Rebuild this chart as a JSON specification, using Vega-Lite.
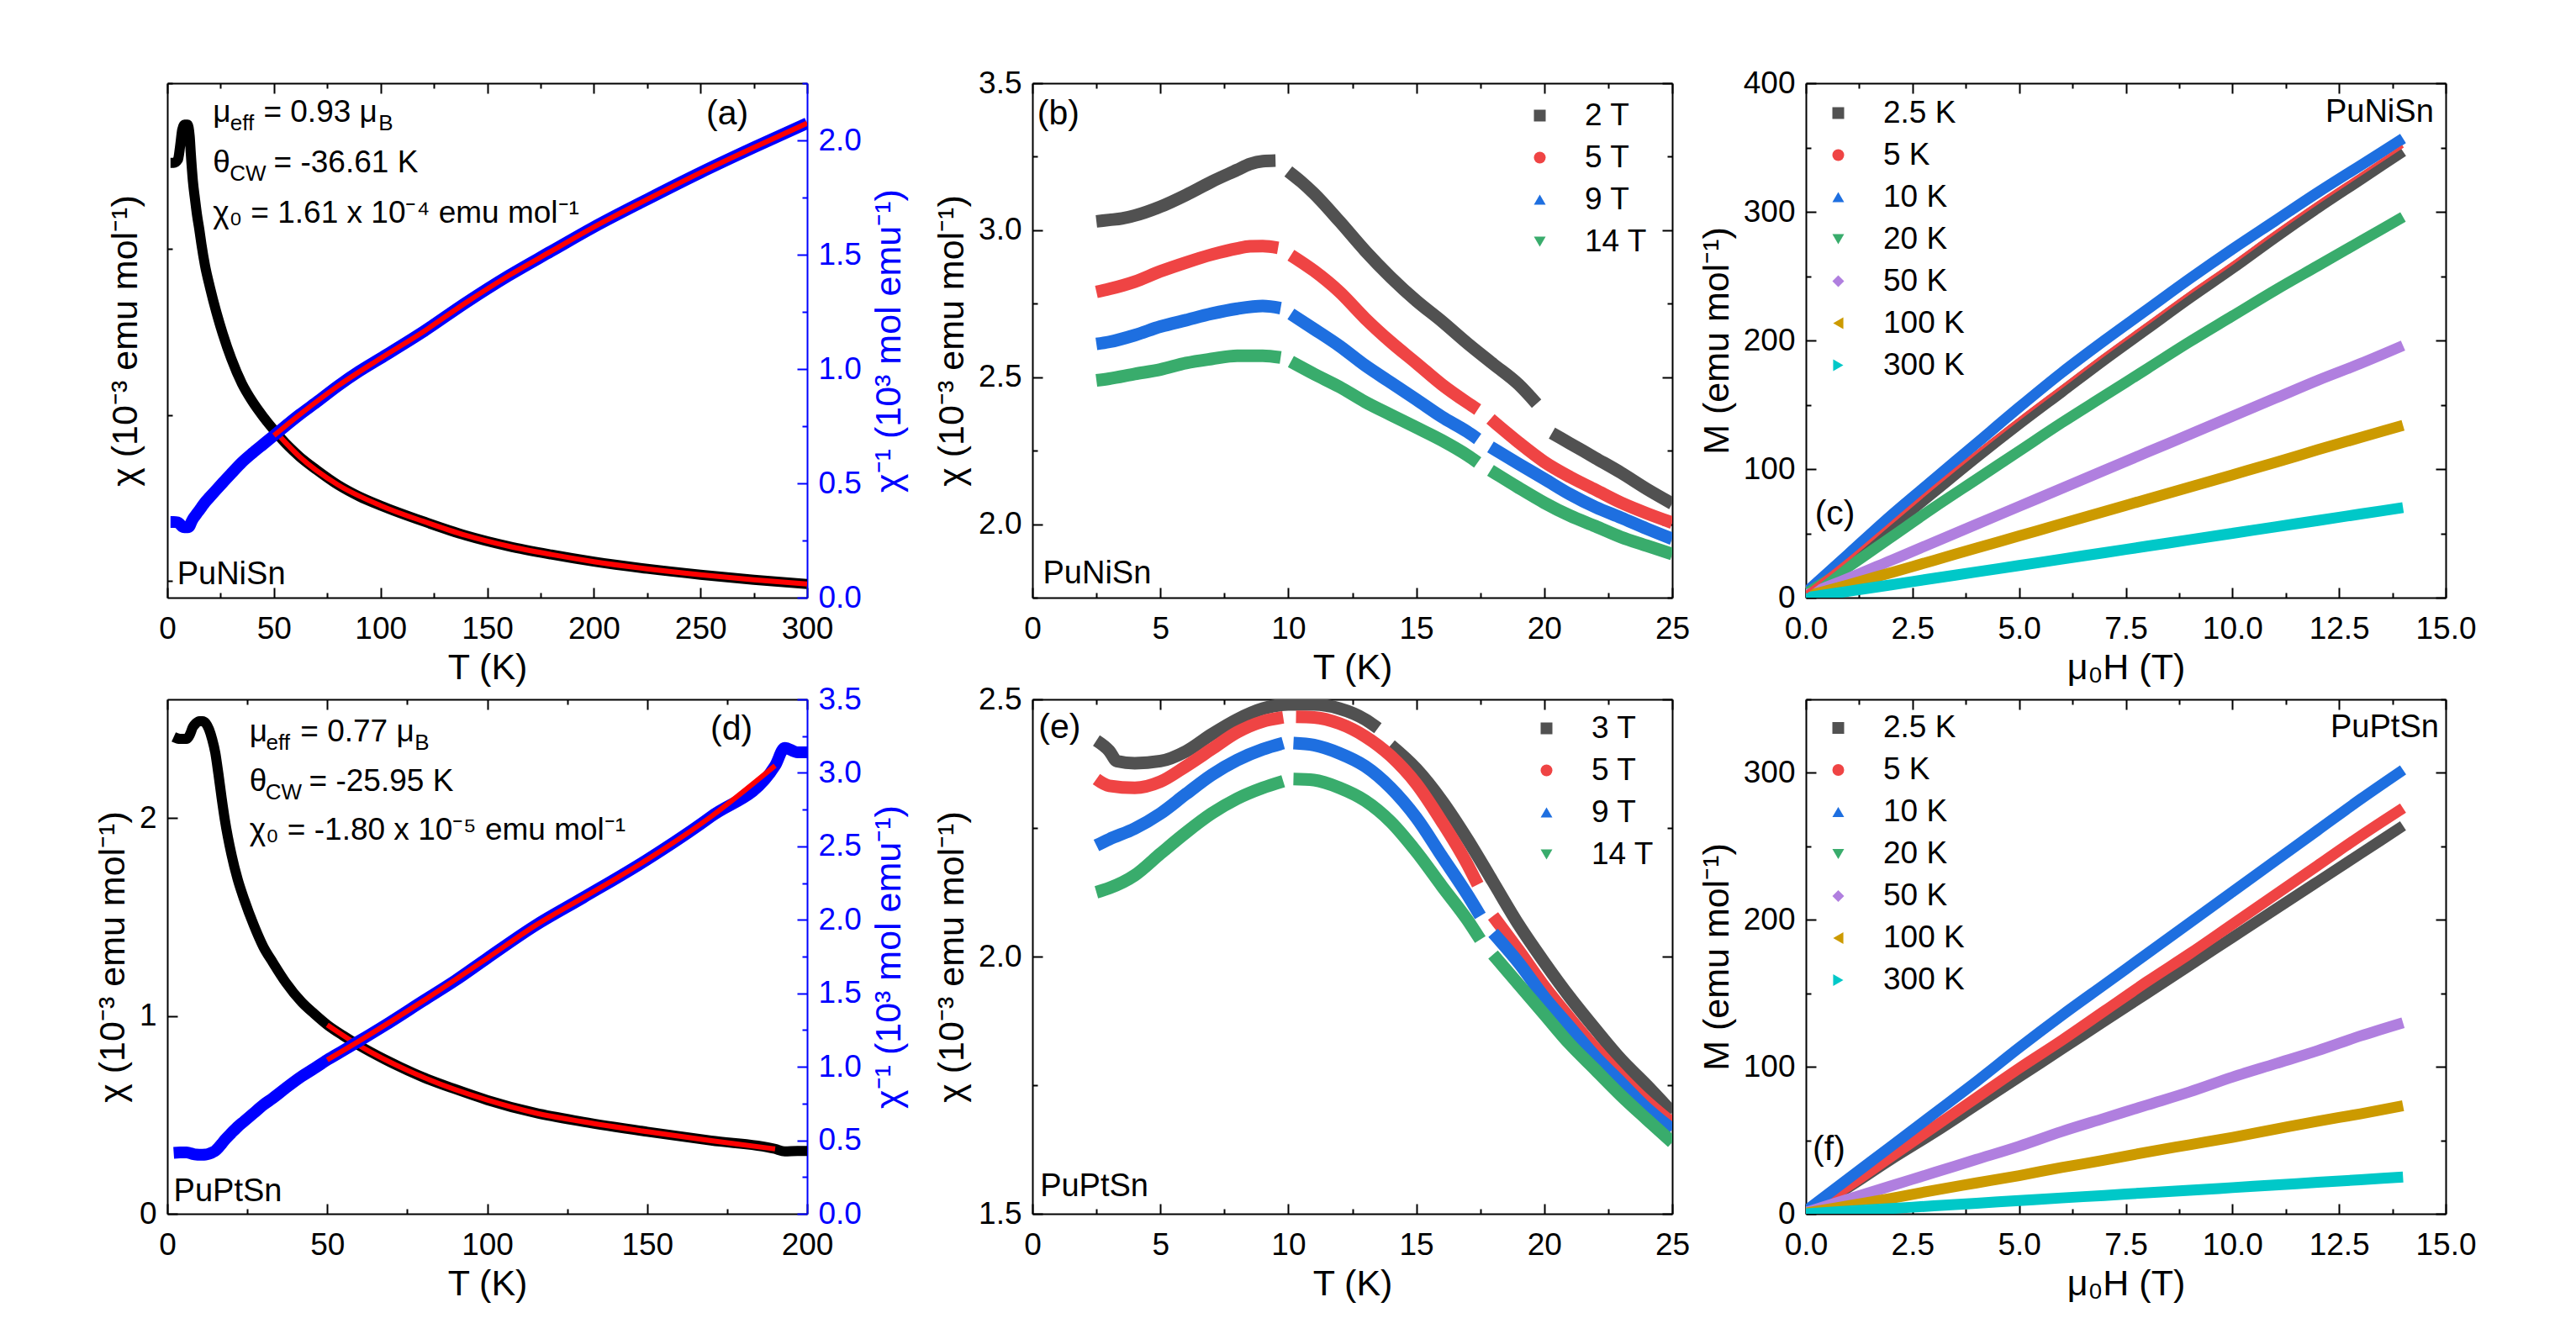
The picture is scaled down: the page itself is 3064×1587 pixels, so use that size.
{
"$schema":"https://vega.github.io/schema/vega-lite/v6.json",
"background":"white",
"padding":{"left":113,"top":80,"right":5,"bottom":5},
"config":{
 "font":"Liberation Sans",
 "view":{"stroke":null},
 "axis":{"grid":false,"labelFont":"Liberation Sans","labelFontSize":37,"labelColor":"#000000","titleFont":"Liberation Sans","titleFontSize":43,"titleFontWeight":"normal","titleColor":"#000000","domainColor":"#000000","domainWidth":2,"tickColor":"#000000","tickWidth":2,"labelPadding":25,"titlePadding":9,"labelFlush":false,"labelOverlap":false,"labelBound":false},
 "legend":{"labelFont":"Liberation Sans","labelFontSize":37,"labelColor":"#000000","symbolSize":196,"symbolStrokeWidth":0,"rowPadding":12,"labelOffset":35}
},
"resolve":{"scale":{"color":"independent","shape":"independent"},"legend":{"color":"independent","shape":"independent"}},
"datasets":{
 "a_meas":[
  {"T":1.5,"chi":3.02,"inv":0.331},{"T":3,"chi":3.02,"inv":0.331},{"T":5,"chi":3.04,"inv":0.329},{"T":6,"chi":3.12,"inv":0.321},{"T":7,"chi":3.22,"inv":0.311},{"T":8,"chi":3.25,"inv":0.308},{"T":9.5,"chi":3.25,"inv":0.308},{"T":10.5,"chi":3.18,"inv":0.314},{"T":11,"chi":3.08,"inv":0.325},{"T":12,"chi":2.91,"inv":0.344},{"T":13,"chi":2.80,"inv":0.357},{"T":14,"chi":2.70,"inv":0.370},{"T":15,"chi":2.62,"inv":0.382},{"T":16,"chi":2.53,"inv":0.395},{"T":17.7,"chi":2.40,"inv":0.417},{"T":20,"chi":2.27,"inv":0.441},{"T":23,"chi":2.12,"inv":0.472},{"T":26,"chi":1.99,"inv":0.503},{"T":30,"chi":1.84,"inv":0.543},{"T":35,"chi":1.69,"inv":0.592},{"T":40,"chi":1.58,"inv":0.633},{"T":45,"chi":1.49,"inv":0.671},{"T":50,"chi":1.41,"inv":0.709},{"T":57,"chi":1.31,"inv":0.763},{"T":62,"chi":1.25,"inv":0.800},{"T":70,"chi":1.17,"inv":0.855},{"T":80,"chi":1.08,"inv":0.926},{"T":90,"chi":1.01,"inv":0.990},{"T":100,"chi":0.955,"inv":1.047},{"T":120,"chi":0.86,"inv":1.163},{"T":140,"chi":0.775,"inv":1.290},{"T":160,"chi":0.71,"inv":1.408},{"T":180,"chi":0.66,"inv":1.515},{"T":200,"chi":0.617,"inv":1.621},{"T":225,"chi":0.574,"inv":1.742},{"T":250,"chi":0.538,"inv":1.859},{"T":275,"chi":0.508,"inv":1.969},{"T":300,"chi":0.482,"inv":2.075}
 ],
 "a_fit":[
  {"T":50,"chi":1.41,"inv":0.709},{"T":62,"chi":1.25,"inv":0.800},{"T":80,"chi":1.08,"inv":0.926},{"T":100,"chi":0.955,"inv":1.047},{"T":120,"chi":0.86,"inv":1.163},{"T":140,"chi":0.775,"inv":1.290},{"T":160,"chi":0.71,"inv":1.408},{"T":180,"chi":0.66,"inv":1.515},{"T":200,"chi":0.617,"inv":1.621},{"T":225,"chi":0.574,"inv":1.742},{"T":250,"chi":0.538,"inv":1.859},{"T":275,"chi":0.508,"inv":1.969},{"T":300,"chi":0.482,"inv":2.075}
 ],
 "d_meas":[
  {"T":2,"chi":2.41,"inv":0.415},{"T":4,"chi":2.40,"inv":0.417},{"T":6,"chi":2.40,"inv":0.417},{"T":7,"chi":2.42,"inv":0.413},{"T":8,"chi":2.46,"inv":0.407},{"T":9,"chi":2.48,"inv":0.403},{"T":10,"chi":2.49,"inv":0.402},{"T":11,"chi":2.49,"inv":0.402},{"T":12,"chi":2.48,"inv":0.403},{"T":13,"chi":2.45,"inv":0.408},{"T":14,"chi":2.40,"inv":0.417},{"T":15,"chi":2.33,"inv":0.429},{"T":16,"chi":2.22,"inv":0.450},{"T":17,"chi":2.10,"inv":0.476},{"T":18,"chi":1.99,"inv":0.503},{"T":20,"chi":1.82,"inv":0.549},{"T":22,"chi":1.69,"inv":0.592},{"T":24,"chi":1.59,"inv":0.629},{"T":27,"chi":1.46,"inv":0.685},{"T":30,"chi":1.35,"inv":0.741},{"T":33,"chi":1.27,"inv":0.787},{"T":37,"chi":1.17,"inv":0.855},{"T":42,"chi":1.07,"inv":0.935},{"T":46,"chi":1.01,"inv":0.990},{"T":50,"chi":0.955,"inv":1.047},{"T":55,"chi":0.90,"inv":1.111},{"T":60,"chi":0.85,"inv":1.176},{"T":68,"chi":0.78,"inv":1.282},{"T":80,"chi":0.69,"inv":1.449},{"T":90,"chi":0.63,"inv":1.587},{"T":100,"chi":0.575,"inv":1.739},{"T":115,"chi":0.51,"inv":1.961},{"T":130,"chi":0.465,"inv":2.151},{"T":150,"chi":0.415,"inv":2.410},{"T":170,"chi":0.37,"inv":2.703},{"T":190,"chi":0.328,"inv":3.049},{"T":193,"chi":0.315,"inv":3.17},{"T":197,"chi":0.318,"inv":3.14},{"T":200,"chi":0.318,"inv":3.14}
 ],
 "d_fit":[
  {"T":50,"chi":0.955,"inv":1.047},{"T":60,"chi":0.85,"inv":1.176},{"T":80,"chi":0.69,"inv":1.449},{"T":100,"chi":0.575,"inv":1.739},{"T":115,"chi":0.51,"inv":1.961},{"T":130,"chi":0.465,"inv":2.151},{"T":150,"chi":0.415,"inv":2.410},{"T":170,"chi":0.37,"inv":2.703},{"T":190,"chi":0.328,"inv":3.049}
 ],
 "b":[
  {"T":2.5,"chi":3.03,"B":"2 T","seg":1},{"T":3,"chi":3.035,"B":"2 T","seg":1},{"T":3.5,"chi":3.04,"B":"2 T","seg":1},{"T":4,"chi":3.05,"B":"2 T","seg":1},{"T":5,"chi":3.08,"B":"2 T","seg":1},{"T":6,"chi":3.12,"B":"2 T","seg":1},{"T":7,"chi":3.165,"B":"2 T","seg":1},{"T":8,"chi":3.205,"B":"2 T","seg":1},{"T":8.5,"chi":3.225,"B":"2 T","seg":1},{"T":9,"chi":3.235,"B":"2 T","seg":1},{"T":9.5,"chi":3.237,"B":"2 T","seg":1},
  {"T":10,"chi":3.20,"B":"2 T","seg":2},{"T":10.5,"chi":3.165,"B":"2 T","seg":2},{"T":11,"chi":3.125,"B":"2 T","seg":2},{"T":12,"chi":3.03,"B":"2 T","seg":2},{"T":13,"chi":2.93,"B":"2 T","seg":2},{"T":14,"chi":2.84,"B":"2 T","seg":2},{"T":15,"chi":2.76,"B":"2 T","seg":2},{"T":16,"chi":2.69,"B":"2 T","seg":2},{"T":17,"chi":2.615,"B":"2 T","seg":2},{"T":18,"chi":2.545,"B":"2 T","seg":2},{"T":19,"chi":2.475,"B":"2 T","seg":2},{"T":19.7,"chi":2.41,"B":"2 T","seg":2},
  {"T":20.3,"chi":2.31,"B":"2 T","seg":3},{"T":21,"chi":2.275,"B":"2 T","seg":3},{"T":22,"chi":2.225,"B":"2 T","seg":3},{"T":23,"chi":2.175,"B":"2 T","seg":3},{"T":24,"chi":2.12,"B":"2 T","seg":3},{"T":25,"chi":2.07,"B":"2 T","seg":3},
  {"T":2.5,"chi":2.79,"B":"5 T","seg":1},{"T":3,"chi":2.80,"B":"5 T","seg":1},{"T":4,"chi":2.825,"B":"5 T","seg":1},{"T":5,"chi":2.86,"B":"5 T","seg":1},{"T":6,"chi":2.89,"B":"5 T","seg":1},{"T":7,"chi":2.917,"B":"5 T","seg":1},{"T":8,"chi":2.938,"B":"5 T","seg":1},{"T":8.5,"chi":2.945,"B":"5 T","seg":1},{"T":9,"chi":2.946,"B":"5 T","seg":1},{"T":9.6,"chi":2.94,"B":"5 T","seg":1},
  {"T":10.1,"chi":2.915,"B":"5 T","seg":2},{"T":11,"chi":2.862,"B":"5 T","seg":2},{"T":12,"chi":2.79,"B":"5 T","seg":2},{"T":13,"chi":2.70,"B":"5 T","seg":2},{"T":14,"chi":2.62,"B":"5 T","seg":2},{"T":15,"chi":2.548,"B":"5 T","seg":2},{"T":16,"chi":2.475,"B":"5 T","seg":2},{"T":17,"chi":2.413,"B":"5 T","seg":2},{"T":17.4,"chi":2.39,"B":"5 T","seg":2},
  {"T":17.9,"chi":2.358,"B":"5 T","seg":3},{"T":19,"chi":2.278,"B":"5 T","seg":3},{"T":20,"chi":2.212,"B":"5 T","seg":3},{"T":21,"chi":2.161,"B":"5 T","seg":3},{"T":22,"chi":2.117,"B":"5 T","seg":3},{"T":23,"chi":2.073,"B":"5 T","seg":3},{"T":24,"chi":2.037,"B":"5 T","seg":3},{"T":25,"chi":2.005,"B":"5 T","seg":3},
  {"T":2.5,"chi":2.613,"B":"9 T","seg":1},{"T":3,"chi":2.62,"B":"9 T","seg":1},{"T":4,"chi":2.643,"B":"9 T","seg":1},{"T":5,"chi":2.672,"B":"9 T","seg":1},{"T":6,"chi":2.694,"B":"9 T","seg":1},{"T":7,"chi":2.716,"B":"9 T","seg":1},{"T":8,"chi":2.733,"B":"9 T","seg":1},{"T":9,"chi":2.742,"B":"9 T","seg":1},{"T":9.7,"chi":2.735,"B":"9 T","seg":1},
  {"T":10.1,"chi":2.715,"B":"9 T","seg":2},{"T":11,"chi":2.664,"B":"9 T","seg":2},{"T":12,"chi":2.606,"B":"9 T","seg":2},{"T":13,"chi":2.54,"B":"9 T","seg":2},{"T":14,"chi":2.482,"B":"9 T","seg":2},{"T":15,"chi":2.424,"B":"9 T","seg":2},{"T":16,"chi":2.365,"B":"9 T","seg":2},{"T":17,"chi":2.314,"B":"9 T","seg":2},{"T":17.4,"chi":2.29,"B":"9 T","seg":2},
  {"T":17.9,"chi":2.263,"B":"9 T","seg":3},{"T":19,"chi":2.205,"B":"9 T","seg":3},{"T":20,"chi":2.154,"B":"9 T","seg":3},{"T":21,"chi":2.102,"B":"9 T","seg":3},{"T":22,"chi":2.058,"B":"9 T","seg":3},{"T":23,"chi":2.022,"B":"9 T","seg":3},{"T":24,"chi":1.985,"B":"9 T","seg":3},{"T":25,"chi":1.95,"B":"9 T","seg":3},
  {"T":2.5,"chi":2.489,"B":"14 T","seg":1},{"T":3,"chi":2.495,"B":"14 T","seg":1},{"T":4,"chi":2.511,"B":"14 T","seg":1},{"T":5,"chi":2.526,"B":"14 T","seg":1},{"T":6,"chi":2.548,"B":"14 T","seg":1},{"T":7,"chi":2.562,"B":"14 T","seg":1},{"T":8,"chi":2.573,"B":"14 T","seg":1},{"T":9,"chi":2.573,"B":"14 T","seg":1},{"T":9.7,"chi":2.567,"B":"14 T","seg":1},
  {"T":10.1,"chi":2.553,"B":"14 T","seg":2},{"T":11,"chi":2.511,"B":"14 T","seg":2},{"T":12,"chi":2.467,"B":"14 T","seg":2},{"T":13,"chi":2.416,"B":"14 T","seg":2},{"T":14,"chi":2.372,"B":"14 T","seg":2},{"T":15,"chi":2.329,"B":"14 T","seg":2},{"T":16,"chi":2.285,"B":"14 T","seg":2},{"T":17,"chi":2.234,"B":"14 T","seg":2},{"T":17.4,"chi":2.21,"B":"14 T","seg":2},
  {"T":17.9,"chi":2.183,"B":"14 T","seg":3},{"T":19,"chi":2.124,"B":"14 T","seg":3},{"T":20,"chi":2.073,"B":"14 T","seg":3},{"T":21,"chi":2.029,"B":"14 T","seg":3},{"T":22,"chi":1.993,"B":"14 T","seg":3},{"T":23,"chi":1.956,"B":"14 T","seg":3},{"T":24,"chi":1.927,"B":"14 T","seg":3},{"T":25,"chi":1.898,"B":"14 T","seg":3}
 ],
 "e":[
  {"T":2.5,"chi":2.42,"B":"3 T","seg":1},{"T":3,"chi":2.40,"B":"3 T","seg":1},{"T":3.3,"chi":2.38,"B":"3 T","seg":1},{"T":4,"chi":2.376,"B":"3 T","seg":1},{"T":5,"chi":2.38,"B":"3 T","seg":1},{"T":6,"chi":2.399,"B":"3 T","seg":1},{"T":7,"chi":2.432,"B":"3 T","seg":1},{"T":8,"chi":2.461,"B":"3 T","seg":1},{"T":9,"chi":2.482,"B":"3 T","seg":1},{"T":10,"chi":2.49,"B":"3 T","seg":1},{"T":11,"chi":2.49,"B":"3 T","seg":1},{"T":12,"chi":2.482,"B":"3 T","seg":1},{"T":13,"chi":2.461,"B":"3 T","seg":1},{"T":13.5,"chi":2.444,"B":"3 T","seg":1},
  {"T":14,"chi":2.411,"B":"3 T","seg":2},{"T":15,"chi":2.365,"B":"3 T","seg":2},{"T":16,"chi":2.303,"B":"3 T","seg":2},{"T":17,"chi":2.228,"B":"3 T","seg":2},{"T":18,"chi":2.145,"B":"3 T","seg":2},{"T":19,"chi":2.062,"B":"3 T","seg":2},{"T":20,"chi":1.989,"B":"3 T","seg":2},{"T":21,"chi":1.921,"B":"3 T","seg":2},{"T":22,"chi":1.859,"B":"3 T","seg":2},{"T":23,"chi":1.80,"B":"3 T","seg":2},{"T":24,"chi":1.75,"B":"3 T","seg":2},{"T":25,"chi":1.697,"B":"3 T","seg":2},
  {"T":2.5,"chi":2.345,"B":"5 T","seg":1},{"T":3,"chi":2.332,"B":"5 T","seg":1},{"T":4,"chi":2.328,"B":"5 T","seg":1},{"T":5,"chi":2.34,"B":"5 T","seg":1},{"T":6,"chi":2.37,"B":"5 T","seg":1},{"T":7,"chi":2.403,"B":"5 T","seg":1},{"T":8,"chi":2.436,"B":"5 T","seg":1},{"T":9,"chi":2.457,"B":"5 T","seg":1},{"T":9.8,"chi":2.465,"B":"5 T","seg":1},
  {"T":10.3,"chi":2.466,"B":"5 T","seg":2},{"T":11,"chi":2.465,"B":"5 T","seg":2},{"T":12,"chi":2.453,"B":"5 T","seg":2},{"T":13,"chi":2.428,"B":"5 T","seg":2},{"T":14,"chi":2.39,"B":"5 T","seg":2},{"T":15,"chi":2.336,"B":"5 T","seg":2},{"T":16,"chi":2.262,"B":"5 T","seg":2},{"T":17,"chi":2.179,"B":"5 T","seg":2},{"T":17.4,"chi":2.14,"B":"5 T","seg":2},
  {"T":18,"chi":2.079,"B":"5 T","seg":3},{"T":19,"chi":2.012,"B":"5 T","seg":3},{"T":20,"chi":1.942,"B":"5 T","seg":3},{"T":21,"chi":1.88,"B":"5 T","seg":3},{"T":22,"chi":1.821,"B":"5 T","seg":3},{"T":23,"chi":1.767,"B":"5 T","seg":3},{"T":24,"chi":1.718,"B":"5 T","seg":3},{"T":25,"chi":1.676,"B":"5 T","seg":3},
  {"T":2.5,"chi":2.216,"B":"9 T","seg":1},{"T":3,"chi":2.228,"B":"9 T","seg":1},{"T":4,"chi":2.249,"B":"9 T","seg":1},{"T":5,"chi":2.278,"B":"9 T","seg":1},{"T":6,"chi":2.316,"B":"9 T","seg":1},{"T":7,"chi":2.353,"B":"9 T","seg":1},{"T":8,"chi":2.382,"B":"9 T","seg":1},{"T":9,"chi":2.403,"B":"9 T","seg":1},{"T":9.8,"chi":2.415,"B":"9 T","seg":1},
  {"T":10.2,"chi":2.415,"B":"9 T","seg":2},{"T":11,"chi":2.411,"B":"9 T","seg":2},{"T":12,"chi":2.395,"B":"9 T","seg":2},{"T":13,"chi":2.37,"B":"9 T","seg":2},{"T":14,"chi":2.328,"B":"9 T","seg":2},{"T":15,"chi":2.27,"B":"9 T","seg":2},{"T":16,"chi":2.195,"B":"9 T","seg":2},{"T":17,"chi":2.12,"B":"9 T","seg":2},{"T":17.5,"chi":2.079,"B":"9 T","seg":2},
  {"T":18,"chi":2.046,"B":"9 T","seg":3},{"T":19,"chi":1.988,"B":"9 T","seg":3},{"T":20,"chi":1.921,"B":"9 T","seg":3},{"T":21,"chi":1.863,"B":"9 T","seg":3},{"T":22,"chi":1.805,"B":"9 T","seg":3},{"T":23,"chi":1.755,"B":"9 T","seg":3},{"T":24,"chi":1.705,"B":"9 T","seg":3},{"T":25,"chi":1.664,"B":"9 T","seg":3},
  {"T":2.5,"chi":2.125,"B":"14 T","seg":1},{"T":3,"chi":2.133,"B":"14 T","seg":1},{"T":4,"chi":2.158,"B":"14 T","seg":1},{"T":5,"chi":2.2,"B":"14 T","seg":1},{"T":6,"chi":2.241,"B":"14 T","seg":1},{"T":7,"chi":2.278,"B":"14 T","seg":1},{"T":8,"chi":2.307,"B":"14 T","seg":1},{"T":9,"chi":2.328,"B":"14 T","seg":1},{"T":9.8,"chi":2.341,"B":"14 T","seg":1},
  {"T":10.2,"chi":2.345,"B":"14 T","seg":2},{"T":11,"chi":2.343,"B":"14 T","seg":2},{"T":12,"chi":2.328,"B":"14 T","seg":2},{"T":13,"chi":2.303,"B":"14 T","seg":2},{"T":14,"chi":2.262,"B":"14 T","seg":2},{"T":15,"chi":2.204,"B":"14 T","seg":2},{"T":16,"chi":2.137,"B":"14 T","seg":2},{"T":17,"chi":2.071,"B":"14 T","seg":2},{"T":17.5,"chi":2.033,"B":"14 T","seg":2},
  {"T":18,"chi":2.004,"B":"14 T","seg":3},{"T":19,"chi":1.946,"B":"14 T","seg":3},{"T":20,"chi":1.888,"B":"14 T","seg":3},{"T":21,"chi":1.83,"B":"14 T","seg":3},{"T":22,"chi":1.78,"B":"14 T","seg":3},{"T":23,"chi":1.73,"B":"14 T","seg":3},{"T":24,"chi":1.684,"B":"14 T","seg":3},{"T":25,"chi":1.639,"B":"14 T","seg":3}
 ],
 "c":[
  {"H":0,"M":4,"Tk":"2.5 K"},{"H":1,"M":28,"Tk":"2.5 K"},{"H":2,"M":55,"Tk":"2.5 K"},{"H":3,"M":82,"Tk":"2.5 K"},{"H":4,"M":109,"Tk":"2.5 K"},{"H":5,"M":135,"Tk":"2.5 K"},{"H":6,"M":160,"Tk":"2.5 K"},{"H":7,"M":185,"Tk":"2.5 K"},{"H":8,"M":209,"Tk":"2.5 K"},{"H":9,"M":233,"Tk":"2.5 K"},{"H":10,"M":256,"Tk":"2.5 K"},{"H":11,"M":280,"Tk":"2.5 K"},{"H":12,"M":303,"Tk":"2.5 K"},{"H":13,"M":325,"Tk":"2.5 K"},{"H":14,"M":347,"Tk":"2.5 K"},
  {"H":0,"M":4,"Tk":"5 K"},{"H":1,"M":30,"Tk":"5 K"},{"H":2,"M":58,"Tk":"5 K"},{"H":3,"M":86,"Tk":"5 K"},{"H":4,"M":113,"Tk":"5 K"},{"H":5,"M":139,"Tk":"5 K"},{"H":6,"M":164,"Tk":"5 K"},{"H":7,"M":189,"Tk":"5 K"},{"H":8,"M":213,"Tk":"5 K"},{"H":9,"M":237,"Tk":"5 K"},{"H":10,"M":260,"Tk":"5 K"},{"H":11,"M":284,"Tk":"5 K"},{"H":12,"M":307,"Tk":"5 K"},{"H":13,"M":329,"Tk":"5 K"},{"H":14,"M":351,"Tk":"5 K"},
  {"H":0,"M":4,"Tk":"10 K"},{"H":1,"M":34,"Tk":"10 K"},{"H":2,"M":64,"Tk":"10 K"},{"H":3,"M":92,"Tk":"10 K"},{"H":4,"M":120,"Tk":"10 K"},{"H":5,"M":148,"Tk":"10 K"},{"H":6,"M":175,"Tk":"10 K"},{"H":7,"M":200,"Tk":"10 K"},{"H":8,"M":224,"Tk":"10 K"},{"H":9,"M":248,"Tk":"10 K"},{"H":10,"M":271,"Tk":"10 K"},{"H":11,"M":293,"Tk":"10 K"},{"H":12,"M":315,"Tk":"10 K"},{"H":13,"M":336,"Tk":"10 K"},{"H":14,"M":357,"Tk":"10 K"},
  {"H":0,"M":3,"Tk":"20 K"},{"H":1,"M":24,"Tk":"20 K"},{"H":2,"M":47,"Tk":"20 K"},{"H":3,"M":70,"Tk":"20 K"},{"H":4,"M":92,"Tk":"20 K"},{"H":5,"M":114,"Tk":"20 K"},{"H":6,"M":136,"Tk":"20 K"},{"H":7,"M":157,"Tk":"20 K"},{"H":8,"M":178,"Tk":"20 K"},{"H":9,"M":199,"Tk":"20 K"},{"H":10,"M":219,"Tk":"20 K"},{"H":11,"M":239,"Tk":"20 K"},{"H":12,"M":258,"Tk":"20 K"},{"H":13,"M":277,"Tk":"20 K"},{"H":14,"M":296,"Tk":"20 K"},
  {"H":0,"M":2,"Tk":"50 K"},{"H":1,"M":15,"Tk":"50 K"},{"H":2,"M":29,"Tk":"50 K"},{"H":3,"M":43,"Tk":"50 K"},{"H":4,"M":57,"Tk":"50 K"},{"H":5,"M":71,"Tk":"50 K"},{"H":6,"M":85,"Tk":"50 K"},{"H":7,"M":99,"Tk":"50 K"},{"H":8,"M":113,"Tk":"50 K"},{"H":9,"M":127,"Tk":"50 K"},{"H":10,"M":141,"Tk":"50 K"},{"H":11,"M":155,"Tk":"50 K"},{"H":12,"M":169,"Tk":"50 K"},{"H":13,"M":182,"Tk":"50 K"},{"H":14,"M":196,"Tk":"50 K"},
  {"H":0,"M":1,"Tk":"100 K"},{"H":1,"M":10,"Tk":"100 K"},{"H":2,"M":19.5,"Tk":"100 K"},{"H":3,"M":29,"Tk":"100 K"},{"H":4,"M":38.5,"Tk":"100 K"},{"H":5,"M":48,"Tk":"100 K"},{"H":6,"M":57.5,"Tk":"100 K"},{"H":7,"M":67,"Tk":"100 K"},{"H":8,"M":76.5,"Tk":"100 K"},{"H":9,"M":86,"Tk":"100 K"},{"H":10,"M":95.5,"Tk":"100 K"},{"H":11,"M":105,"Tk":"100 K"},{"H":12,"M":115,"Tk":"100 K"},{"H":13,"M":124.5,"Tk":"100 K"},{"H":14,"M":134,"Tk":"100 K"},
  {"H":0,"M":0,"Tk":"300 K"},{"H":1,"M":5,"Tk":"300 K"},{"H":2,"M":10,"Tk":"300 K"},{"H":3,"M":15,"Tk":"300 K"},{"H":4,"M":20,"Tk":"300 K"},{"H":5,"M":25,"Tk":"300 K"},{"H":6,"M":30,"Tk":"300 K"},{"H":7,"M":35,"Tk":"300 K"},{"H":8,"M":40,"Tk":"300 K"},{"H":9,"M":45,"Tk":"300 K"},{"H":10,"M":50,"Tk":"300 K"},{"H":11,"M":55,"Tk":"300 K"},{"H":12,"M":60,"Tk":"300 K"},{"H":13,"M":65,"Tk":"300 K"},{"H":14,"M":70,"Tk":"300 K"}
 ],
 "f":[
  {"H":0,"M":1,"Tk":"2.5 K"},{"H":1,"M":18,"Tk":"2.5 K"},{"H":2,"M":37,"Tk":"2.5 K"},{"H":3,"M":55,"Tk":"2.5 K"},{"H":4,"M":74,"Tk":"2.5 K"},{"H":5,"M":93,"Tk":"2.5 K"},{"H":6,"M":112,"Tk":"2.5 K"},{"H":7,"M":131,"Tk":"2.5 K"},{"H":8,"M":150,"Tk":"2.5 K"},{"H":9,"M":169,"Tk":"2.5 K"},{"H":10,"M":188,"Tk":"2.5 K"},{"H":11,"M":207,"Tk":"2.5 K"},{"H":12,"M":226,"Tk":"2.5 K"},{"H":13,"M":245,"Tk":"2.5 K"},{"H":14,"M":264,"Tk":"2.5 K"},
  {"H":0,"M":1,"Tk":"5 K"},{"H":1,"M":19,"Tk":"5 K"},{"H":2,"M":39,"Tk":"5 K"},{"H":3,"M":59,"Tk":"5 K"},{"H":4,"M":79,"Tk":"5 K"},{"H":5,"M":99,"Tk":"5 K"},{"H":6,"M":118,"Tk":"5 K"},{"H":7,"M":138,"Tk":"5 K"},{"H":8,"M":158,"Tk":"5 K"},{"H":9,"M":177,"Tk":"5 K"},{"H":10,"M":197,"Tk":"5 K"},{"H":11,"M":217,"Tk":"5 K"},{"H":12,"M":237,"Tk":"5 K"},{"H":13,"M":257,"Tk":"5 K"},{"H":14,"M":276,"Tk":"5 K"},
  {"H":0,"M":2,"Tk":"10 K"},{"H":1,"M":24,"Tk":"10 K"},{"H":2,"M":46,"Tk":"10 K"},{"H":3,"M":68,"Tk":"10 K"},{"H":4,"M":90,"Tk":"10 K"},{"H":5,"M":113,"Tk":"10 K"},{"H":6,"M":135,"Tk":"10 K"},{"H":7,"M":156,"Tk":"10 K"},{"H":8,"M":177,"Tk":"10 K"},{"H":9,"M":198,"Tk":"10 K"},{"H":10,"M":219,"Tk":"10 K"},{"H":11,"M":240,"Tk":"10 K"},{"H":12,"M":261,"Tk":"10 K"},{"H":13,"M":282,"Tk":"10 K"},{"H":14,"M":302,"Tk":"10 K"},
  {"H":0,"M":1,"Tk":"50 K"},{"H":1,"M":10,"Tk":"50 K"},{"H":2,"M":19,"Tk":"50 K"},{"H":3,"M":28,"Tk":"50 K"},{"H":4,"M":37,"Tk":"50 K"},{"H":5,"M":46,"Tk":"50 K"},{"H":6,"M":56,"Tk":"50 K"},{"H":7,"M":65,"Tk":"50 K"},{"H":8,"M":74,"Tk":"50 K"},{"H":9,"M":83,"Tk":"50 K"},{"H":10,"M":93,"Tk":"50 K"},{"H":11,"M":102,"Tk":"50 K"},{"H":12,"M":111,"Tk":"50 K"},{"H":13,"M":121,"Tk":"50 K"},{"H":14,"M":130,"Tk":"50 K"},
  {"H":0,"M":0.5,"Tk":"100 K"},{"H":1,"M":5.5,"Tk":"100 K"},{"H":2,"M":10.5,"Tk":"100 K"},{"H":3,"M":16,"Tk":"100 K"},{"H":4,"M":21,"Tk":"100 K"},{"H":5,"M":26,"Tk":"100 K"},{"H":6,"M":31.5,"Tk":"100 K"},{"H":7,"M":36.5,"Tk":"100 K"},{"H":8,"M":42,"Tk":"100 K"},{"H":9,"M":47,"Tk":"100 K"},{"H":10,"M":52,"Tk":"100 K"},{"H":11,"M":57.5,"Tk":"100 K"},{"H":12,"M":63,"Tk":"100 K"},{"H":13,"M":68,"Tk":"100 K"},{"H":14,"M":73.5,"Tk":"100 K"},
  {"H":0,"M":0,"Tk":"300 K"},{"H":1,"M":1.8,"Tk":"300 K"},{"H":2,"M":3.6,"Tk":"300 K"},{"H":3,"M":5.4,"Tk":"300 K"},{"H":4,"M":7.2,"Tk":"300 K"},{"H":5,"M":9,"Tk":"300 K"},{"H":6,"M":10.8,"Tk":"300 K"},{"H":7,"M":12.5,"Tk":"300 K"},{"H":8,"M":14.3,"Tk":"300 K"},{"H":9,"M":16,"Tk":"300 K"},{"H":10,"M":17.8,"Tk":"300 K"},{"H":11,"M":19.6,"Tk":"300 K"},{"H":12,"M":21.4,"Tk":"300 K"},{"H":13,"M":23.2,"Tk":"300 K"},{"H":14,"M":25,"Tk":"300 K"}
 ],
 "a_txt":[
  {"x":21.4,"y":3.268,"txt":"μ","role":"main"},{"x":29.5,"y":3.217,"txt":"eff","role":"sub"},{"x":45.1,"y":3.268,"txt":"= 0.93 μ","role":"main"},{"x":99.0,"y":3.217,"txt":"B","role":"sub"},
  {"x":21.4,"y":2.963,"txt":"θ","role":"main"},{"x":29.3,"y":2.912,"txt":"CW","role":"sub"},{"x":49.9,"y":2.963,"txt":"= -36.61 K","role":"main"},
  {"x":21.4,"y":2.658,"txt":"χ₀ = 1.61 x 10⁻⁴ emu mol⁻¹","role":"main"},
  {"x":252.7,"y":3.254,"txt":"(a)","role":"tag"},{"x":4.6,"y":0.483,"txt":"PuNiSn","role":"name"}
 ],
 "d_txt":[
  {"x":25.7,"y":2.386,"txt":"μ","role":"main"},{"x":30.9,"y":2.343,"txt":"eff","role":"sub"},{"x":41.6,"y":2.386,"txt":"= 0.77 μ","role":"main"},{"x":77.3,"y":2.343,"txt":"B","role":"sub"},
  {"x":25.7,"y":2.138,"txt":"θ","role":"main"},{"x":30.7,"y":2.096,"txt":"CW","role":"sub"},{"x":44.3,"y":2.138,"txt":"= -25.95 K","role":"main"},
  {"x":25.7,"y":1.891,"txt":"χ₀ = -1.80 x 10⁻⁵ emu mol⁻¹","role":"main"},
  {"x":169.8,"y":2.398,"txt":"(d)","role":"tag"},{"x":2.0,"y":0.062,"txt":"PuPtSn","role":"name"}
 ],
 "b_txt":[{"x":0.19,"y":3.361,"txt":"(b)","role":"tag"},{"x":0.41,"y":1.798,"txt":"PuNiSn","role":"name"}],
 "e_txt":[{"x":0.24,"y":2.425,"txt":"(e)","role":"tag"},{"x":0.3,"y":1.534,"txt":"PuPtSn","role":"name"}],
 "c_txt":[{"x":12.18,"y":370,"txt":"PuNiSn","role":"name"},{"x":0.21,"y":56.6,"txt":"(c)","role":"tag"}],
 "f_txt":[{"x":12.3,"y":324,"txt":"PuPtSn","role":"name"},{"x":0.16,"y":36.8,"txt":"(f)","role":"tag"}]
},
"columns":5,
"spacing":{"row":121,"column":0},
"bounds":"flush",
"align":"each",
"concat":[
 {
  "width":761,"height":612,
  "resolve":{"scale":{"y":"independent"},"axis":{"x":"independent","y":"independent"}},
  "layer":[
   {"data":{"name":"a_meas"},"mark":{"type":"line","color":"#000000","strokeWidth":12,"clip":true,"interpolate":"monotone"},
    "encoding":{
     "x":{"field":"T","type":"quantitative","scale":{"domain":[0,300],"nice":false,"zero":false},"axis":{"orient":"bottom","title":"T (K)","values":[0,25,50,75,100,125,150,175,200,225,250,275,300],"labelExpr":"datum.value % 50 === 0 ? datum.label : ''","tickSize":{"condition":{"test":"datum.value % 50 !== 0","value":-6},"value":-12},"labelPadding":31,"titlePadding":1}},
     "y":{"field":"chi","type":"quantitative","scale":{"domain":[0.4,3.5],"nice":false,"zero":false},"axis":{"orient":"left","title":"χ (10⁻³ emu mol⁻¹)","values":[0.5,1,1.5,2,2.5,3,3.5],"format":"d","labelExpr":"datum.value % 1 === 0 ? datum.label : ''","tickSize":{"condition":{"test":"datum.value % 1 !== 0","value":-6},"value":-12}}}
    }},
   {"data":{"name":"a_fit"},"mark":{"type":"line","color":"#ff0000","strokeWidth":6,"clip":true,"interpolate":"monotone"},
    "encoding":{"x":{"field":"T","type":"quantitative","axis":null},"y":{"field":"chi","type":"quantitative","scale":{"domain":[0.4,3.5],"nice":false,"zero":false},"axis":null}}},
   {"data":{"name":"a_txt"},"transform":[{"filter":"datum.role === 'main'"}],"mark":{"type":"text","align":"left","baseline":"alphabetic","fontSize":37,"color":"#000000"},
    "encoding":{"x":{"field":"x","type":"quantitative","axis":null},"y":{"field":"y","type":"quantitative","scale":{"domain":[0.4,3.5],"nice":false,"zero":false},"axis":null},"text":{"field":"txt","type":"nominal"}}},
   {"data":{"name":"a_txt"},"transform":[{"filter":"datum.role === 'sub'"}],"mark":{"type":"text","align":"left","baseline":"alphabetic","fontSize":26,"color":"#000000"},
    "encoding":{"x":{"field":"x","type":"quantitative","axis":null},"y":{"field":"y","type":"quantitative","scale":{"domain":[0.4,3.5],"nice":false,"zero":false},"axis":null},"text":{"field":"txt","type":"nominal"}}},
   {"data":{"name":"a_txt"},"transform":[{"filter":"datum.role === 'tag'"}],"mark":{"type":"text","align":"left","baseline":"alphabetic","fontSize":41,"color":"#000000"},
    "encoding":{"x":{"field":"x","type":"quantitative","axis":null},"y":{"field":"y","type":"quantitative","scale":{"domain":[0.4,3.5],"nice":false,"zero":false},"axis":null},"text":{"field":"txt","type":"nominal"}}},
   {"data":{"name":"a_txt"},"transform":[{"filter":"datum.role === 'name'"}],"mark":{"type":"text","align":"left","baseline":"alphabetic","fontSize":38,"color":"#000000"},
    "encoding":{"x":{"field":"x","type":"quantitative","axis":null},"y":{"field":"y","type":"quantitative","scale":{"domain":[0.4,3.5],"nice":false,"zero":false},"axis":null},"text":{"field":"txt","type":"nominal"}}},
   {"data":{"name":"a_meas"},"mark":{"type":"line","color":"#0000ff","strokeWidth":14,"clip":true,"interpolate":"monotone"},
    "encoding":{
     "x":{"field":"T","type":"quantitative","axis":{"orient":"top","title":null,"labels":false,"values":[0,25,50,75,100,125,150,175,200,225,250,275,300],"tickSize":{"condition":{"test":"datum.value % 50 !== 0","value":-6},"value":-12}}},
     "y":{"field":"inv","type":"quantitative","scale":{"domain":[0,2.25],"nice":false,"zero":false},"axis":{"orient":"right","title":"χ⁻¹ (10³ mol emu⁻¹)","titleAngle":270,"titleBaseline":"top","titlePadding":12,"titleColor":"#0000ff","labelColor":"#0000ff","tickColor":"#0000ff","domainColor":"#0000ff","values":[0,0.25,0.5,0.75,1,1.25,1.5,1.75,2,2.25],"format":".1f","labelExpr":"datum.value % 0.5 === 0 ? datum.label : ''","tickSize":{"condition":{"test":"datum.value % 0.5 !== 0","value":-6},"value":-12}}}
    }},
   {"data":{"name":"a_fit"},"mark":{"type":"line","color":"#ff0000","strokeWidth":6,"clip":true,"interpolate":"monotone"},
    "encoding":{"x":{"field":"T","type":"quantitative","axis":null},"y":{"field":"inv","type":"quantitative","scale":{"domain":[0,2.25],"nice":false,"zero":false},"axis":null}}}
  ]
 },
 {"width":268,"height":612,"data":{"values":[{"k":1}]},"mark":{"type":"point","opacity":0}},
 {
  "width":761,"height":612,
  "resolve":{"axis":{"x":"independent","y":"independent"}},
  "layer":[
   {"data":{"name":"b"},"transform":[{"filter":"false"}],"mark":{"type":"point","filled":true,"size":196,"opacity":1},
    "encoding":{
     "x":{"field":"T","type":"quantitative","scale":{"domain":[0,25],"nice":false,"zero":false},"axis":null},
     "y":{"field":"chi","type":"quantitative","scale":{"domain":[1.75,3.5],"nice":false,"zero":false},"axis":null},
     "color":{"field":"B","type":"nominal","scale":{"domain":["2 T","5 T","9 T","14 T"],"range":["#515151","#ef4444","#1e6fe0","#39ac6c"]},"legend":{"title":null,"orient":"none","legendX":585,"legendY":20}},
     "shape":{"field":"B","type":"nominal","scale":{"domain":["2 T","5 T","9 T","14 T"],"range":["square","circle","triangle-up","triangle-down"]},"legend":{"title":null,"orient":"none","legendX":585,"legendY":20}}
    }},
   {"data":{"name":"b"},"mark":{"type":"line","strokeWidth":15,"clip":true,"interpolate":"monotone"},
    "encoding":{
     "x":{"field":"T","type":"quantitative","axis":{"orient":"bottom","title":"T (K)","values":[0,2.5,5,7.5,10,12.5,15,17.5,20,22.5,25],"labelExpr":"datum.value % 5 === 0 ? datum.label : ''","tickSize":{"condition":{"test":"datum.value % 5 !== 0","value":-6},"value":-12},"labelPadding":31,"titlePadding":1}},
     "y":{"field":"chi","type":"quantitative","axis":{"orient":"left","title":"χ (10⁻³ emu mol⁻¹)","values":[1.75,2,2.25,2.5,2.75,3,3.25,3.5],"format":".1f","labelExpr":"datum.value % 0.5 === 0 ? datum.label : ''","tickSize":{"condition":{"test":"datum.value % 0.5 !== 0","value":-6},"value":-12}}},
     "color":{"field":"B","type":"nominal","scale":{"domain":["2 T","5 T","9 T","14 T"],"range":["#515151","#ef4444","#1e6fe0","#39ac6c"]},"legend":null},
     "detail":{"field":"seg","type":"nominal"}
    }},
   {"data":{"name":"b"},"mark":{"type":"point","opacity":0},
    "encoding":{
     "x":{"field":"T","type":"quantitative","axis":{"orient":"top","title":null,"labels":false,"values":[0,2.5,5,7.5,10,12.5,15,17.5,20,22.5,25],"tickSize":{"condition":{"test":"datum.value % 5 !== 0","value":-6},"value":-12}}},
     "y":{"field":"chi","type":"quantitative","axis":{"orient":"right","title":null,"labels":false,"values":[1.75,2,2.25,2.5,2.75,3,3.25,3.5],"tickSize":{"condition":{"test":"datum.value % 0.5 !== 0","value":-6},"value":-12}}}
    }},
   {"data":{"name":"b_txt"},"transform":[{"filter":"datum.role === 'tag'"}],"mark":{"type":"text","align":"left","baseline":"alphabetic","fontSize":41,"color":"#000000"},
    "encoding":{"x":{"field":"x","type":"quantitative","axis":null},"y":{"field":"y","type":"quantitative","axis":null},"text":{"field":"txt","type":"nominal"}}},
   {"data":{"name":"b_txt"},"transform":[{"filter":"datum.role === 'name'"}],"mark":{"type":"text","align":"left","baseline":"alphabetic","fontSize":38,"color":"#000000"},
    "encoding":{"x":{"field":"x","type":"quantitative","axis":null},"y":{"field":"y","type":"quantitative","axis":null},"text":{"field":"txt","type":"nominal"}}}
  ]
 },
 {"width":159,"height":612,"data":{"values":[{"k":1}]},"mark":{"type":"point","opacity":0}},
 {
  "width":761,"height":612,
  "resolve":{"axis":{"x":"independent","y":"independent"}},
  "layer":[
   {"data":{"name":"c"},"transform":[{"filter":"false"}],"mark":{"type":"point","filled":true,"size":196,"opacity":1},
    "encoding":{
     "x":{"field":"H","type":"quantitative","scale":{"domain":[0,15],"nice":false,"zero":false},"axis":null},
     "y":{"field":"M","type":"quantitative","scale":{"domain":[0,400],"nice":false,"zero":false},"axis":null},
     "color":{"field":"Tk","type":"nominal","scale":{"domain":["2.5 K","5 K","10 K","20 K","50 K","100 K","300 K"],"range":["#515151","#ef4444","#1e6fe0","#39ac6c","#b07fdf","#cc9a00","#00c8c8"]},"legend":{"title":null,"orient":"none","legendX":20,"legendY":17}},
     "shape":{"field":"Tk","type":"nominal","scale":{"domain":["2.5 K","5 K","10 K","20 K","50 K","100 K","300 K"],"range":["square","circle","triangle-up","triangle-down","diamond","triangle-left","triangle-right"]},"legend":{"title":null,"orient":"none","legendX":20,"legendY":17}}
    }},
   {"data":{"name":"c"},"transform":[{"filter":"datum.Tk !== '5 K'"}],"mark":{"type":"line","strokeWidth":13,"clip":true,"interpolate":"monotone"},
    "encoding":{
     "x":{"field":"H","type":"quantitative","axis":{"orient":"bottom","title":"μ₀H (T)","values":[0,1.25,2.5,3.75,5,6.25,7.5,8.75,10,11.25,12.5,13.75,15],"format":".1f","labelExpr":"datum.value % 2.5 === 0 ? datum.label : ''","tickSize":{"condition":{"test":"datum.value % 2.5 !== 0","value":-6},"value":-12},"labelPadding":31,"titlePadding":1}},
     "y":{"field":"M","type":"quantitative","axis":{"orient":"left","title":"M (emu mol⁻¹)","values":[0,50,100,150,200,250,300,350,400],"format":"d","labelExpr":"datum.value % 100 === 0 ? datum.label : ''","tickSize":{"condition":{"test":"datum.value % 100 !== 0","value":-6},"value":-12}}},
     "color":{"field":"Tk","type":"nominal","scale":{"domain":["2.5 K","5 K","10 K","20 K","50 K","100 K","300 K"],"range":["#515151","#ef4444","#1e6fe0","#39ac6c","#b07fdf","#cc9a00","#00c8c8"]},"legend":null}
    }},
   {"data":{"name":"c"},"transform":[{"filter":"datum.Tk === '5 K'"}],"mark":{"type":"line","strokeWidth":3.5,"clip":true,"interpolate":"monotone"},
    "encoding":{
     "x":{"field":"H","type":"quantitative","axis":null},
     "y":{"field":"M","type":"quantitative","axis":null},
     "color":{"field":"Tk","type":"nominal","scale":{"domain":["2.5 K","5 K","10 K","20 K","50 K","100 K","300 K"],"range":["#515151","#ef4444","#1e6fe0","#39ac6c","#b07fdf","#cc9a00","#00c8c8"]},"legend":null}
    }},
   {"data":{"name":"c"},"mark":{"type":"point","opacity":0},
    "encoding":{
     "x":{"field":"H","type":"quantitative","axis":{"orient":"top","title":null,"labels":false,"values":[0,1.25,2.5,3.75,5,6.25,7.5,8.75,10,11.25,12.5,13.75,15],"tickSize":{"condition":{"test":"datum.value % 2.5 !== 0","value":-6},"value":-12}}},
     "y":{"field":"M","type":"quantitative","axis":{"orient":"right","title":null,"labels":false,"values":[0,50,100,150,200,250,300,350,400],"tickSize":{"condition":{"test":"datum.value % 100 !== 0","value":-6},"value":-12}}}
    }},
   {"data":{"name":"c_txt"},"transform":[{"filter":"datum.role === 'tag'"}],"mark":{"type":"text","align":"left","baseline":"alphabetic","fontSize":41,"color":"#000000"},
    "encoding":{"x":{"field":"x","type":"quantitative","axis":null},"y":{"field":"y","type":"quantitative","axis":null},"text":{"field":"txt","type":"nominal"}}},
   {"data":{"name":"c_txt"},"transform":[{"filter":"datum.role === 'name'"}],"mark":{"type":"text","align":"left","baseline":"alphabetic","fontSize":38,"color":"#000000"},
    "encoding":{"x":{"field":"x","type":"quantitative","axis":null},"y":{"field":"y","type":"quantitative","axis":null},"text":{"field":"txt","type":"nominal"}}}
  ]
 },
 {
  "width":761,"height":612,
  "resolve":{"scale":{"y":"independent"},"axis":{"x":"independent","y":"independent"}},
  "layer":[
   {"data":{"name":"d_meas"},"mark":{"type":"line","color":"#000000","strokeWidth":12,"clip":true,"interpolate":"monotone"},
    "encoding":{
     "x":{"field":"T","type":"quantitative","scale":{"domain":[0,200],"nice":false,"zero":false},"axis":{"orient":"bottom","title":"T (K)","values":[0,25,50,75,100,125,150,175,200],"labelExpr":"datum.value % 50 === 0 ? datum.label : ''","tickSize":{"condition":{"test":"datum.value % 50 !== 0","value":-6},"value":-12},"labelPadding":31,"titlePadding":1}},
     "y":{"field":"chi","type":"quantitative","scale":{"domain":[0,2.6],"nice":false,"zero":false},"axis":{"orient":"left","title":"χ (10⁻³ emu mol⁻¹)","values":[0,0.5,1,1.5,2,2.5],"format":"d","labelExpr":"datum.value % 1 === 0 ? datum.label : ''","tickSize":{"condition":{"test":"datum.value % 1 !== 0","value":-6},"value":-12}}}
    }},
   {"data":{"name":"d_fit"},"mark":{"type":"line","color":"#ff0000","strokeWidth":6,"clip":true,"interpolate":"monotone"},
    "encoding":{"x":{"field":"T","type":"quantitative","axis":null},"y":{"field":"chi","type":"quantitative","scale":{"domain":[0,2.6],"nice":false,"zero":false},"axis":null}}},
   {"data":{"name":"d_txt"},"transform":[{"filter":"datum.role === 'main'"}],"mark":{"type":"text","align":"left","baseline":"alphabetic","fontSize":37,"color":"#000000"},
    "encoding":{"x":{"field":"x","type":"quantitative","axis":null},"y":{"field":"y","type":"quantitative","scale":{"domain":[0,2.6],"nice":false,"zero":false},"axis":null},"text":{"field":"txt","type":"nominal"}}},
   {"data":{"name":"d_txt"},"transform":[{"filter":"datum.role === 'sub'"}],"mark":{"type":"text","align":"left","baseline":"alphabetic","fontSize":26,"color":"#000000"},
    "encoding":{"x":{"field":"x","type":"quantitative","axis":null},"y":{"field":"y","type":"quantitative","scale":{"domain":[0,2.6],"nice":false,"zero":false},"axis":null},"text":{"field":"txt","type":"nominal"}}},
   {"data":{"name":"d_txt"},"transform":[{"filter":"datum.role === 'tag'"}],"mark":{"type":"text","align":"left","baseline":"alphabetic","fontSize":41,"color":"#000000"},
    "encoding":{"x":{"field":"x","type":"quantitative","axis":null},"y":{"field":"y","type":"quantitative","scale":{"domain":[0,2.6],"nice":false,"zero":false},"axis":null},"text":{"field":"txt","type":"nominal"}}},
   {"data":{"name":"d_txt"},"transform":[{"filter":"datum.role === 'name'"}],"mark":{"type":"text","align":"left","baseline":"alphabetic","fontSize":38,"color":"#000000"},
    "encoding":{"x":{"field":"x","type":"quantitative","axis":null},"y":{"field":"y","type":"quantitative","scale":{"domain":[0,2.6],"nice":false,"zero":false},"axis":null},"text":{"field":"txt","type":"nominal"}}},
   {"data":{"name":"d_meas"},"mark":{"type":"line","color":"#0000ff","strokeWidth":14,"clip":true,"interpolate":"monotone"},
    "encoding":{
     "x":{"field":"T","type":"quantitative","axis":{"orient":"top","title":null,"labels":false,"values":[0,25,50,75,100,125,150,175,200],"tickSize":{"condition":{"test":"datum.value % 50 !== 0","value":-6},"value":-12}}},
     "y":{"field":"inv","type":"quantitative","scale":{"domain":[0,3.5],"nice":false,"zero":false},"axis":{"orient":"right","title":"χ⁻¹ (10³ mol emu⁻¹)","titleAngle":270,"titleBaseline":"top","titlePadding":12,"titleColor":"#0000ff","labelColor":"#0000ff","tickColor":"#0000ff","domainColor":"#0000ff","values":[0,0.25,0.5,0.75,1,1.25,1.5,1.75,2,2.25,2.5,2.75,3,3.25,3.5],"format":".1f","labelExpr":"datum.value % 0.5 === 0 ? datum.label : ''","tickSize":{"condition":{"test":"datum.value % 0.5 !== 0","value":-6},"value":-12}}}
    }},
   {"data":{"name":"d_fit"},"mark":{"type":"line","color":"#ff0000","strokeWidth":6,"clip":true,"interpolate":"monotone"},
    "encoding":{"x":{"field":"T","type":"quantitative","axis":null},"y":{"field":"inv","type":"quantitative","scale":{"domain":[0,3.5],"nice":false,"zero":false},"axis":null}}}
  ]
 },
 {"width":268,"height":612,"data":{"values":[{"k":1}]},"mark":{"type":"point","opacity":0}},
 {
  "width":761,"height":612,
  "resolve":{"axis":{"x":"independent","y":"independent"}},
  "layer":[
   {"data":{"name":"e"},"transform":[{"filter":"false"}],"mark":{"type":"point","filled":true,"size":196,"opacity":1},
    "encoding":{
     "x":{"field":"T","type":"quantitative","scale":{"domain":[0,25],"nice":false,"zero":false},"axis":null},
     "y":{"field":"chi","type":"quantitative","scale":{"domain":[1.5,2.5],"nice":false,"zero":false},"axis":null},
     "color":{"field":"B","type":"nominal","scale":{"domain":["3 T","5 T","9 T","14 T"],"range":["#515151","#ef4444","#1e6fe0","#39ac6c"]},"legend":{"title":null,"orient":"none","legendX":593,"legendY":16}},
     "shape":{"field":"B","type":"nominal","scale":{"domain":["3 T","5 T","9 T","14 T"],"range":["square","circle","triangle-up","triangle-down"]},"legend":{"title":null,"orient":"none","legendX":593,"legendY":16}}
    }},
   {"data":{"name":"e"},"mark":{"type":"line","strokeWidth":15,"clip":true,"interpolate":"monotone"},
    "encoding":{
     "x":{"field":"T","type":"quantitative","axis":{"orient":"bottom","title":"T (K)","values":[0,2.5,5,7.5,10,12.5,15,17.5,20,22.5,25],"labelExpr":"datum.value % 5 === 0 ? datum.label : ''","tickSize":{"condition":{"test":"datum.value % 5 !== 0","value":-6},"value":-12},"labelPadding":31,"titlePadding":1}},
     "y":{"field":"chi","type":"quantitative","axis":{"orient":"left","title":"χ (10⁻³ emu mol⁻¹)","values":[1.5,1.75,2,2.25,2.5],"format":".1f","labelExpr":"datum.value % 0.5 === 0 ? datum.label : ''","tickSize":{"condition":{"test":"datum.value % 0.5 !== 0","value":-6},"value":-12}}},
     "color":{"field":"B","type":"nominal","scale":{"domain":["3 T","5 T","9 T","14 T"],"range":["#515151","#ef4444","#1e6fe0","#39ac6c"]},"legend":null},
     "detail":{"field":"seg","type":"nominal"}
    }},
   {"data":{"name":"e"},"mark":{"type":"point","opacity":0},
    "encoding":{
     "x":{"field":"T","type":"quantitative","axis":{"orient":"top","title":null,"labels":false,"values":[0,2.5,5,7.5,10,12.5,15,17.5,20,22.5,25],"tickSize":{"condition":{"test":"datum.value % 5 !== 0","value":-6},"value":-12}}},
     "y":{"field":"chi","type":"quantitative","axis":{"orient":"right","title":null,"labels":false,"values":[1.5,1.75,2,2.25,2.5],"tickSize":{"condition":{"test":"datum.value % 0.5 !== 0","value":-6},"value":-12}}}
    }},
   {"data":{"name":"e_txt"},"transform":[{"filter":"datum.role === 'tag'"}],"mark":{"type":"text","align":"left","baseline":"alphabetic","fontSize":41,"color":"#000000"},
    "encoding":{"x":{"field":"x","type":"quantitative","axis":null},"y":{"field":"y","type":"quantitative","axis":null},"text":{"field":"txt","type":"nominal"}}},
   {"data":{"name":"e_txt"},"transform":[{"filter":"datum.role === 'name'"}],"mark":{"type":"text","align":"left","baseline":"alphabetic","fontSize":38,"color":"#000000"},
    "encoding":{"x":{"field":"x","type":"quantitative","axis":null},"y":{"field":"y","type":"quantitative","axis":null},"text":{"field":"txt","type":"nominal"}}}
  ]
 },
 {"width":159,"height":612,"data":{"values":[{"k":1}]},"mark":{"type":"point","opacity":0}},
 {
  "width":761,"height":612,
  "resolve":{"axis":{"x":"independent","y":"independent"}},
  "layer":[
   {"data":{"name":"f"},"transform":[{"filter":"false"}],"mark":{"type":"point","filled":true,"size":196,"opacity":1},
    "encoding":{
     "x":{"field":"H","type":"quantitative","scale":{"domain":[0,15],"nice":false,"zero":false},"axis":null},
     "y":{"field":"M","type":"quantitative","scale":{"domain":[0,350],"nice":false,"zero":false},"axis":null},
     "color":{"field":"Tk","type":"nominal","scale":{"domain":["2.5 K","5 K","10 K","20 K","50 K","100 K","300 K"],"range":["#515151","#ef4444","#1e6fe0","#39ac6c","#b07fdf","#cc9a00","#00c8c8"]},"legend":{"title":null,"orient":"none","legendX":20,"legendY":15.5}},
     "shape":{"field":"Tk","type":"nominal","scale":{"domain":["2.5 K","5 K","10 K","20 K","50 K","100 K","300 K"],"range":["square","circle","triangle-up","triangle-down","diamond","triangle-left","triangle-right"]},"legend":{"title":null,"orient":"none","legendX":20,"legendY":15.5}}
    }},
   {"data":{"name":"f"},"mark":{"type":"line","strokeWidth":13,"clip":true,"interpolate":"monotone"},
    "encoding":{
     "x":{"field":"H","type":"quantitative","axis":{"orient":"bottom","title":"μ₀H (T)","values":[0,1.25,2.5,3.75,5,6.25,7.5,8.75,10,11.25,12.5,13.75,15],"format":".1f","labelExpr":"datum.value % 2.5 === 0 ? datum.label : ''","tickSize":{"condition":{"test":"datum.value % 2.5 !== 0","value":-6},"value":-12},"labelPadding":31,"titlePadding":1}},
     "y":{"field":"M","type":"quantitative","axis":{"orient":"left","title":"M (emu mol⁻¹)","values":[0,50,100,150,200,250,300,350],"format":"d","labelExpr":"datum.value % 100 === 0 ? datum.label : ''","tickSize":{"condition":{"test":"datum.value % 100 !== 0","value":-6},"value":-12}}},
     "color":{"field":"Tk","type":"nominal","scale":{"domain":["2.5 K","5 K","10 K","20 K","50 K","100 K","300 K"],"range":["#515151","#ef4444","#1e6fe0","#39ac6c","#b07fdf","#cc9a00","#00c8c8"]},"legend":null}
    }},
   {"data":{"name":"f"},"mark":{"type":"point","opacity":0},
    "encoding":{
     "x":{"field":"H","type":"quantitative","axis":{"orient":"top","title":null,"labels":false,"values":[0,1.25,2.5,3.75,5,6.25,7.5,8.75,10,11.25,12.5,13.75,15],"tickSize":{"condition":{"test":"datum.value % 2.5 !== 0","value":-6},"value":-12}}},
     "y":{"field":"M","type":"quantitative","axis":{"orient":"right","title":null,"labels":false,"values":[0,50,100,150,200,250,300,350],"tickSize":{"condition":{"test":"datum.value % 100 !== 0","value":-6},"value":-12}}}
    }},
   {"data":{"name":"f_txt"},"transform":[{"filter":"datum.role === 'tag'"}],"mark":{"type":"text","align":"left","baseline":"alphabetic","fontSize":41,"color":"#000000"},
    "encoding":{"x":{"field":"x","type":"quantitative","axis":null},"y":{"field":"y","type":"quantitative","axis":null},"text":{"field":"txt","type":"nominal"}}},
   {"data":{"name":"f_txt"},"transform":[{"filter":"datum.role === 'name'"}],"mark":{"type":"text","align":"left","baseline":"alphabetic","fontSize":38,"color":"#000000"},
    "encoding":{"x":{"field":"x","type":"quantitative","axis":null},"y":{"field":"y","type":"quantitative","axis":null},"text":{"field":"txt","type":"nominal"}}}
  ]
 }
]
}
